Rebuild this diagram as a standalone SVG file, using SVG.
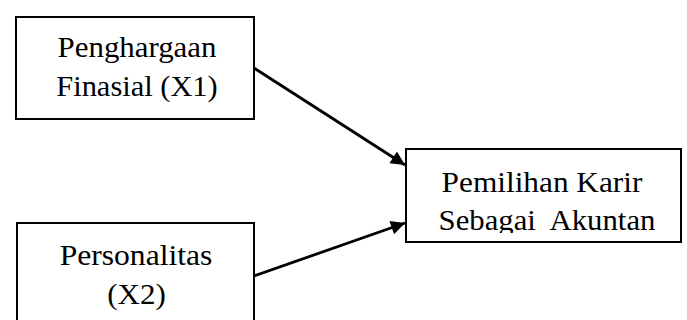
<svg xmlns="http://www.w3.org/2000/svg" width="687" height="320" viewBox="0 0 687 320">
<style>
.box{fill:#fff;stroke:#000;stroke-width:2}
.t{font-family:"Liberation Serif","Times New Roman",serif;font-size:29px;fill:#000;text-anchor:middle}
.conn{stroke:#000;stroke-width:2.8;fill:none}
</style>
<defs>
<marker id="ah" viewBox="0 0 10 10" refX="10" refY="5" markerUnits="userSpaceOnUse" markerWidth="18" markerHeight="14" orient="auto">
<path d="M0,0 L10,5 L0,10 z" fill="#000"/>
</marker>
<clipPath id="c3"><rect x="406" y="149" width="275" height="84"/></clipPath>
</defs>
<rect width="687" height="320" fill="#fff"/>
<g id="connectors">
<line class="conn" x1="254" y1="68" x2="405" y2="165" marker-end="url(#ah)"/>
<line class="conn" x1="254" y1="276" x2="405" y2="223" marker-end="url(#ah)"/>
</g>
<g id="node-x1">
<rect class="box" x="16" y="17" width="238" height="102"/>
<text class="t" transform="translate(137,57) scale(1.065,1)">Penghargaan</text>
<text class="t" transform="translate(137,96) scale(1.05,1)">Finasial (X1)</text>
</g>
<g id="node-x2">
<rect class="box" x="17" y="223" width="237" height="110"/>
<text class="t" transform="translate(136,265) scale(1.09,1)">Personalitas</text>
<text class="t" transform="translate(136.5,304) scale(1.07,1)">(X2)</text>
</g>
<g id="node-y">
<rect class="box" x="406" y="149" width="275" height="93"/>
<g clip-path="url(#c3)">
<text class="t" transform="translate(542,192) scale(1.08,1)">Pemilihan Karir</text>
<text class="t" transform="translate(547,230) scale(1.06,1)" xml:space="preserve">Sebagai  Akuntan</text>
</g>
</g>
</svg>
